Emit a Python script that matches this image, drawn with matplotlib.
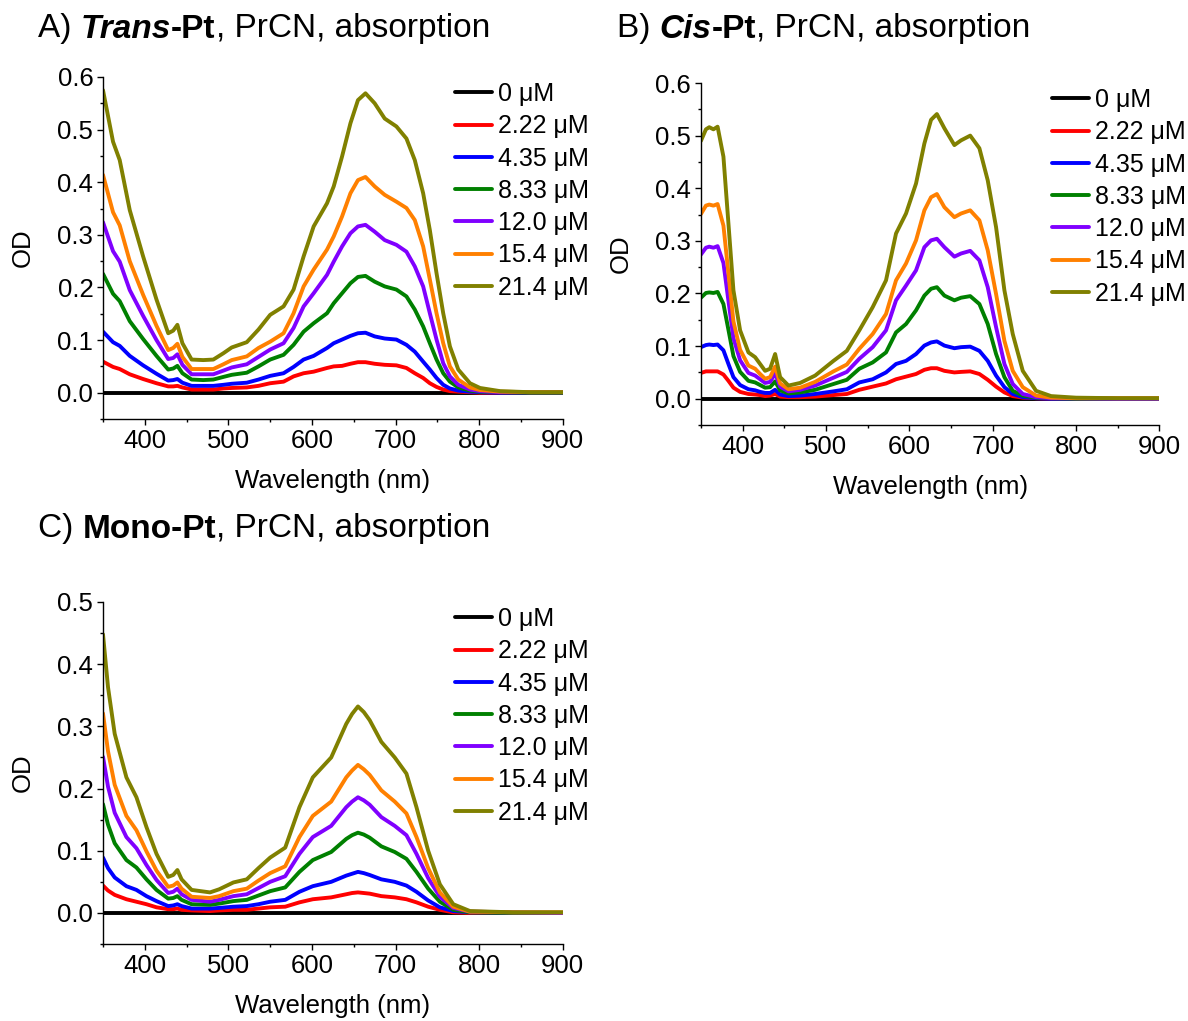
import matplotlib
matplotlib.use("Agg")
import matplotlib.pyplot as plt
from matplotlib.ticker import MultipleLocator, FormatStrFormatter

plt.rcParams['font.family'] = ['Liberation Sans', 'DejaVu Sans']

labels = ["0 \u03bcM", "2.22 \u03bcM", "4.35 \u03bcM", "8.33 \u03bcM", "12.0 \u03bcM", "15.4 \u03bcM", "21.4 \u03bcM"]
colors = ["#000000", "#ff0000", "#0000ff", "#008000", "#8000ff", "#ff8000", "#808000"]

# A) Trans-Pt
wl_a = [350, 362, 370, 382, 398, 414, 428, 434, 439, 445, 456, 470, 482, 494, 504, 522,
        536, 550, 566, 578, 590, 602, 618, 626, 636, 646, 655, 664, 675, 687, 701, 713, 723, 733,
        741, 749, 757, 765, 775, 789, 801, 825, 860, 900]
a_0 = [0.0] * len(wl_a)
a_222 = [.059, .049, .045, .035, .026, .018, .012, .012, .013, .010, .006, .006, .006, .008, .009, .010,
         .013, .018, .021, .031, .037, .040, .047, .050, .051, .055, .058, .058, .055, .053, .052, .047, .037, .028,
         .018, .011, .006, .003, .002, .001, .000, .000, .000, .000]
a_435 = [.116, .096, .089, .070, .052, .036, .023, .024, .026, .019, .013, .013, .013, .015, .017, .019,
         .025, .032, .037, .049, .063, .070, .085, .094, .101, .108, .113, .114, .107, .103, .101, .091, .078, .059,
         .044, .028, .015, .008, .004, .002, .001, .000, .000, .000]
a_833 = [.226, .188, .174, .136, .102, .070, .044, .046, .051, .037, .025, .024, .025, .030, .034, .038,
         .050, .063, .072, .091, .116, .132, .151, .170, .189, .208, .220, .222, .211, .202, .196, .183, .158, .126,
         .094, .063, .037, .021, .010, .004, .002, .001, .000, .000]
a_120 = [.324, .269, .249, .195, .146, .100, .064, .066, .073, .053, .035, .035, .035, .042, .048, .054,
         .068, .082, .094, .123, .164, .189, .224, .249, .278, .303, .316, .319, .306, .290, .281, .268, .240, .202,
         .151, .101, .056, .031, .015, .006, .003, .001, .001, .001]
a_154 = [.414, .343, .318, .250, .186, .127, .081, .085, .093, .068, .045, .045, .045, .054, .062, .069,
         .085, .097, .113, .151, .202, .234, .272, .297, .335, .379, .404, .410, .392, .376, .363, .351, .328, .278,
         .215, .151, .094, .050, .025, .010, .005, .002, .001, .001]
a_214 = [.575, .477, .442, .347, .259, .177, .113, .118, .129, .094, .063, .062, .063, .075, .086, .096,
         .120, .148, .164, .196, .259, .316, .360, .392, .449, .512, .556, .569, .550, .521, .506, .483, .442, .379,
         .309, .227, .151, .088, .044, .018, .009, .003, .001, .001]

# B) Cis-Pt
wl_b = [350, 356, 360, 365, 370, 377, 383, 389, 397, 407, 415, 421, 427, 433, 439, 445, 455, 469, 487, 509, 525,
        540, 556, 572, 584, 596, 608, 618, 626, 633, 642, 654, 662, 673, 684, 694, 704, 714, 724, 736, 752, 770,
        800, 850, 900]
b_0 = [0.0] * len(wl_b)
b_222 = [.049, .052, .052, .052, .052, .046, .034, .021, .013, .009, .008, .007, .005, .006, .009, .004, .003, .003,
         .004, .007, .009,
         .017, .023, .029, .037, .042, .047, .055, .058, .058, .053, .050, .051, .052, .047, .036, .023, .012, .005,
         .002, .001, .000, .000, .000, .000]
b_435 = [.098, .102, .103, .102, .103, .092, .066, .041, .026, .018, .016, .013, .011, .011, .017, .008, .005, .006,
         .009, .014, .018,
         .031, .037, .050, .066, .072, .085, .101, .107, .109, .101, .096, .098, .099, .091, .072, .044, .022, .009,
         .003, .001, .000, .000, .000, .000]
b_833 = [.192, .201, .202, .201, .203, .180, .131, .081, .051, .034, .031, .026, .021, .022, .033, .016, .010, .012,
         .017, .028, .036,
         .057, .069, .088, .126, .142, .168, .196, .209, .212, .196, .187, .192, .195, .180, .142, .085, .041, .015,
         .006, .002, .001, .000, .000, .000]
b_120 = [.274, .287, .289, .287, .290, .258, .186, .115, .073, .049, .044, .037, .030, .032, .048, .023, .014, .017,
         .025, .040, .051,
         .076, .098, .130, .187, .215, .244, .288, .301, .304, .288, .270, .276, .281, .263, .212, .136, .066, .028,
         .009, .003, .001, .001, .000, .000]
b_154 = [.351, .367, .369, .367, .370, .329, .238, .147, .093, .063, .057, .047, .038, .041, .061, .029, .018, .021,
         .032, .052, .065,
         .095, .123, .161, .225, .257, .301, .358, .383, .389, .364, .345, .352, .358, .339, .282, .199, .110, .053,
         .022, .006, .002, .001, .001, .001]
b_214 = [.490, .512, .516, .512, .517, .460, .333, .206, .130, .088, .079, .066, .053, .057, .085, .041, .025, .030,
         .044, .072, .091,
         .130, .174, .225, .314, .352, .409, .485, .530, .541, .514, .482, .491, .500, .476, .415, .326, .206, .123,
         .053, .015, .005, .002, .001, .001]

# C) Mono-Pt
wl_c = [350, 356, 364, 378, 390, 402, 414, 428, 434, 439, 444, 456, 478, 489, 506, 522, 536, 550, 568, 585, 601,
        623, 641, 648, 655, 662, 669, 683, 699, 713, 725, 739, 753, 769, 789, 840, 900]
c_0 = [0.0] * len(wl_c)
c_222 = [.044, .036, .029, .022, .018, .014, .009, .006, .006, .007, .005, .004, .003, .004, .005, .005, .007, .009,
         .010, .017, .022, .025, .030, .032, .033, .032, .031, .027, .025, .022, .017, .010, .005, .001, .000, .000, .000]
c_435 = [.089, .072, .057, .043, .037, .027, .019, .011, .012, .014, .011, .007, .007, .008, .010, .011, .014, .018,
         .021, .034, .043, .050, .060, .063, .066, .064, .061, .054, .050, .044, .034, .020, .009, .003, .001, .000, .000]
c_833 = [.175, .142, .112, .085, .073, .054, .037, .023, .024, .027, .021, .014, .013, .015, .019, .021, .028, .035,
         .041, .066, .085, .098, .119, .125, .129, .126, .121, .107, .098, .087, .066, .039, .018, .005, .001, .000, .000]
c_120 = [.251, .203, .161, .122, .104, .077, .053, .032, .034, .039, .030, .021, .018, .021, .027, .030, .040, .050,
         .059, .095, .122, .140, .170, .179, .186, .181, .174, .154, .140, .125, .095, .056, .026, .008, .002, .001, .000]
c_154 = [.321, .260, .206, .156, .133, .099, .068, .042, .044, .049, .039, .026, .024, .027, .035, .039, .052, .064,
         .075, .122, .156, .179, .218, .229, .238, .231, .222, .197, .179, .160, .122, .072, .033, .010, .002, .001, .001]
c_214 = [.448, .363, .288, .218, .186, .138, .095, .058, .061, .069, .054, .037, .033, .038, .049, .054, .072, .089,
         .105, .170, .218, .250, .304, .320, .332, .323, .310, .275, .250, .224, .170, .100, .046, .014, .003, .001, .001]


def rich_title(fig, x, y, parts, size=24):
    # draw a title made of pieces with different weights/styles, side by side
    renderer = fig.canvas.get_renderer()
    xpix = x * fig.bbox.width
    for text, weight, style in parts:
        t = fig.text(xpix / fig.bbox.width, y, text, fontsize=size, fontweight=weight,
                     fontstyle=style, va='center', ha='left')
        bb = t.get_window_extent(renderer=renderer)
        xpix = bb.x1


def panel(ax, wl, series, ymax, leg_y):
    for s, c, lab in zip(series, colors, labels):
        ax.plot(wl, s, color=c, lw=2.8, label=lab, solid_joinstyle='round', solid_capstyle='round')
    ax.set_xlim(350, 900)
    ax.set_ylim(-0.05, ymax)
    ax.spines['top'].set_visible(False)
    ax.spines['right'].set_visible(False)
    for sp in ['left', 'bottom']:
        ax.spines[sp].set_linewidth(1.0)
    ax.xaxis.set_major_locator(MultipleLocator(100))
    ax.xaxis.set_minor_locator(MultipleLocator(50))
    ax.yaxis.set_major_locator(MultipleLocator(0.1))
    ax.yaxis.set_minor_locator(MultipleLocator(0.05))
    ax.yaxis.set_major_formatter(FormatStrFormatter('%.1f'))
    ax.tick_params(which='major', direction='out', length=4, width=1, labelsize=18.5, pad=3)
    ax.tick_params(which='minor', direction='out', length=2.5, width=1)
    ax.set_xlabel("Wavelength (nm)", fontsize=18.5, labelpad=12)
    ax.set_ylabel("OD", fontsize=18.5, labelpad=16)
    ax.legend(loc='upper left', bbox_to_anchor=(0.765, leg_y), frameon=False, fontsize=18,
              handlelength=1.5, handletextpad=0.25, labelspacing=0.33, borderpad=0, borderaxespad=0)


fig = plt.figure(figsize=(11.88, 10.21), dpi=100)
ax_a = fig.add_axes([0.0867, 0.5896, 0.387, 0.335])
ax_b = fig.add_axes([0.590, 0.5837, 0.386, 0.335])
ax_c = fig.add_axes([0.0867, 0.0754, 0.387, 0.335])

panel(ax_a, wl_a, [a_0, a_222, a_435, a_833, a_120, a_154, a_214], 0.6, 0.985)
panel(ax_b, wl_b, [b_0, b_222, b_435, b_833, b_120, b_154, b_214], 0.6, 0.985)
panel(ax_c, wl_c, [c_0, c_222, c_435, c_833, c_120, c_154, c_214], 0.5, 0.985)

rich_title(fig, 38 / 1188, 1 - 29 / 1021,
           [("A) ", 'normal', 'normal'), ("Trans", 'bold', 'italic'), ("-Pt", 'bold', 'normal'),
            (", PrCN, absorption", 'normal', 'normal')])
rich_title(fig, 617 / 1188, 1 - 29 / 1021,
           [("B) ", 'normal', 'normal'), ("Cis", 'bold', 'italic'), ("-Pt", 'bold', 'normal'),
            (", PrCN, absorption", 'normal', 'normal')])
rich_title(fig, 38 / 1188, 1 - 529 / 1021,
           [("C) ", 'normal', 'normal'), ("Mono-Pt", 'bold', 'normal'),
            (", PrCN, absorption", 'normal', 'normal')])

fig.savefig("out.png", dpi=100)
